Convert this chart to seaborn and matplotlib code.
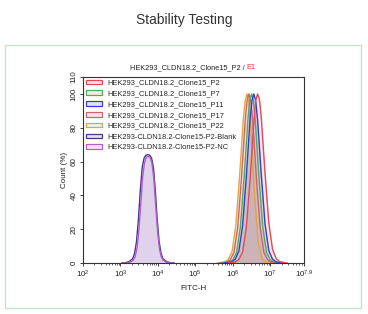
import numpy as np
import pandas as pd
import matplotlib
matplotlib.use('Agg')
import matplotlib.pyplot as plt
import seaborn as sns
from matplotlib.patches import Patch, Rectangle
from matplotlib.colors import to_rgba

sns.set_theme(style='white')
plt.rcParams['font.family'] = ['Liberation Sans', 'DejaVu Sans']
plt.rcParams['mathtext.fontset'] = 'custom'
plt.rcParams['mathtext.rm'] = 'Liberation Sans'
plt.rcParams['mathtext.it'] = 'Liberation Sans:italic'

# ---- data (x in log10 units of FITC-H, y = Count %) ----
labels = ["HEK293_CLDN18.2_Clone15_P2", "HEK293_CLDN18.2_Clone15_P7",
          "HEK293_CLDN18.2_Clone15_P11", "HEK293_CLDN18.2_Clone15_P17",
          "HEK293_CLDN18.2_Clone15_P22", "HEK293-CLDN18.2-Clone15-P2-Blank",
          "HEK293-CLDN18.2-Clone15-P2-NC"]
colors = ["#e04a55", "#4caf5a", "#3a3ad0", "#c8646e", "#e8a040", "#4a3590", "#b060c8"]

p2_x = [5.86, 6.06, 6.16, 6.26, 6.36, 6.46, 6.56, 6.61, 6.66, 6.71, 6.76, 6.86, 6.96, 7.06, 7.16, 7.26, 7.46]
p2_y = [0, 0.6, 2.0, 6.5, 21, 49, 83, 96, 100, 97, 86, 53, 24, 8, 2.5, 0.7, 0]
p7_x = [5.70, 5.90, 6.00, 6.10, 6.20, 6.30, 6.40, 6.45, 6.50, 6.55, 6.60, 6.70, 6.80, 6.90, 7.00, 7.10, 7.30]
p7_y = [0, 0.5, 1.8, 6.3, 21, 50, 84, 96, 100, 96, 84, 50, 21, 6.3, 1.8, 0.5, 0]
p11_x = [5.76, 5.96, 6.06, 6.16, 6.26, 6.36, 6.46, 6.51, 6.56, 6.61, 6.66, 6.76, 6.86, 6.96, 7.06, 7.16, 7.36]
p11_y = [0, 0.6, 2.1, 7.0, 22, 51, 85, 96, 100, 96, 85, 52, 23, 7.5, 2.2, 0.6, 0]
p17_x = [5.63, 5.83, 5.93, 6.03, 6.13, 6.23, 6.33, 6.38, 6.43, 6.48, 6.53, 6.63, 6.73, 6.83, 6.93, 7.03, 7.23]
p17_y = [0, 0.5, 1.8, 6.3, 21, 50, 84, 96, 100, 96, 84, 50, 21, 6.3, 1.8, 0.5, 0]
p22_x = [5.58, 5.78, 5.88, 5.98, 6.08, 6.18, 6.28, 6.33, 6.38, 6.43, 6.48, 6.58, 6.68, 6.78, 6.88, 6.98, 7.18]
p22_y = [0, 0.6, 2.0, 6.8, 22, 51, 85, 96, 100, 95, 80, 40, 12, 2.5, 0.5, 0, 0]
blank_x = [3.03, 3.13, 3.23, 3.33, 3.38, 3.43, 3.48, 3.53, 3.58, 3.63, 3.68, 3.73,
           3.78, 3.83, 3.88, 3.93, 3.98, 4.03, 4.08, 4.13, 4.23, 4.33, 4.43]
blank_y = [0, 0.2, 0.8, 2.6, 6.0, 13.0, 26.0, 43.0, 56.5, 62.0, 63.8, 64.0,
           63.8, 62.0, 56.5, 43.0, 26.0, 13.0, 6.0, 2.6, 0.8, 0.2, 0]
nc_x = [3.04, 3.14, 3.24, 3.34, 3.39, 3.44, 3.49, 3.54, 3.59, 3.64, 3.69, 3.74,
        3.79, 3.84, 3.89, 3.94, 3.99, 4.04, 4.09, 4.14, 4.24, 4.34, 4.44]
nc_y = [0, 0, 0.4, 1.6, 3.6, 8.5, 19.0, 34.0, 50.0, 59.0, 62.5, 63.0,
        62.5, 59.0, 50.0, 34.0, 19.0, 8.5, 3.6, 1.6, 0.4, 0, 0]

x_ticks = [2, 3, 4, 5, 6, 7, 7.9]
x_ticklabels = ["$10^{2}$", "$10^{3}$", "$10^{4}$", "$10^{5}$", "$10^{6}$", "$10^{7}$", "$10^{7.9}$"]
y_ticks = [0, 20, 40, 60, 80, 100, 110]

series = [
    (blank_x, blank_y, colors[5]),
    (nc_x, nc_y, colors[6]),
    (p22_x, p22_y, colors[4]),
    (p17_x, p17_y, colors[3]),
    (p7_x, p7_y, colors[1]),
    (p11_x, p11_y, colors[2]),
    (p2_x, p2_y, colors[0]),
]

W, H = 368, 314
fig = plt.figure(figsize=(W / 100, H / 100), dpi=100)
fig.patches.append(Rectangle((5 / W, 1 - 308 / H), (361 - 5) / W, (308 - 45) / H,
                             transform=fig.transFigure, fill=False,
                             edgecolor='#c5e3cf', lw=1.0))
ax = fig.add_axes([83 / W, 1 - 263 / H, (304 - 83) / W, (263 - 77) / H])

for xs, ys, c in series:
    df = pd.DataFrame({'x': xs, 'y': ys})
    ax.fill_between(df['x'], df['y'], color=c, alpha=0.13, lw=0)
    sns.lineplot(data=df, x='x', y='y', color=c, sort=False, estimator=None,
                 lw=1.0, ax=ax)

ax.set_xlim(2, 7.9)
ax.set_ylim(0, 110)
ax.set_xticks(x_ticks)
ax.set_xticklabels(x_ticklabels)
minor = [n + np.log10(k) for n in range(2, 8) for k in range(2, 10) if n + np.log10(k) < 7.9]
ax.set_xticks(minor, minor=True)
ax.set_yticks(y_ticks)
ax.set_yticklabels([str(v) for v in y_ticks], rotation=90, va='center')
ax.tick_params(axis='both', which='major', direction='out', length=2.5, width=0.6,
               labelsize=5.8, pad=1.5, colors='#222', bottom=True, left=True)
ax.tick_params(axis='x', which='minor', direction='out', length=1.5, width=0.5,
               bottom=True, colors='#222')
for s in ax.spines.values():
    s.set_linewidth(0.8)
    s.set_color('#333')
ax.set_xlabel('FITC-H', fontsize=5.8, labelpad=4, color='#222')
ax.set_ylabel('Count (%)', fontsize=5.8, labelpad=2, color='#222')

handles = [Patch(facecolor=to_rgba(c, 0.15), edgecolor=c, lw=0.9) for c in colors]
ax.legend(handles, labels, loc='upper left', bbox_to_anchor=(0.0, 1.0), frameon=False,
          fontsize=5.4, handlelength=2.2, handleheight=0.6, labelspacing=0.5,
          borderpad=0.2, borderaxespad=0.15, handletextpad=0.7)

t1 = fig.text(130 / W, 1 - 68 / H, 'HEK293_CLDN18.2_Clone15_P2 / ', ha='left', va='center',
              fontsize=5.3, color='#222')
ax.annotate('E1', xycoords=t1, xy=(1, 0.5), va='center', ha='left', fontsize=5.3,
            color='#e03030')
fig.text(184 / W, 1 - 20 / H, 'Stability Testing', ha='center', va='center',
         fontsize=10, color='#333')

fig.savefig('out.png', dpi=100)
